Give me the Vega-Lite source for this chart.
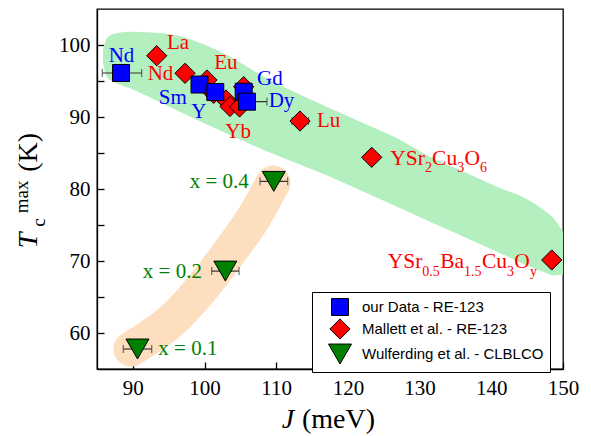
{
  "$schema": "https://vega.github.io/schema/vega-lite/v6.json",
  "width": 466,
  "height": 360,
  "autosize": {"type": "none"},
  "padding": {"left": 97, "top": 9, "right": 28, "bottom": 67},
  "background": "white",
  "config": {
    "view": {"stroke": "black", "strokeWidth": 1.3},
    "axis": {
      "grid": false, "domainColor": "black", "domainWidth": 1.3,
      "tickColor": "black", "tickWidth": 1.3,
      "labelFont": "Liberation Serif", "labelFontSize": 21, "labelColor": "black",
      "labelOverlap": false, "labelFlush": false, "title": null
    },
    "legend": {
      "strokeColor": "black", "strokeWidth": 1, "fillColor": "white",
      "padding": 6, "labelFont": "Liberation Sans", "labelFontSize": 15, "labelColor": "black",
      "labelLimit": 0,
      "symbolStrokeColor": "black", "symbolStrokeWidth": 1, "rowPadding": -3,
      "symbolOffset": 10, "labelOffset": 10
    }
  },
  "datasets": {
    "bandG": [
      {"J": 85.837, "T": 99.306, "T2": 97.5},
      {"J": 86.395, "T": 100.972, "T2": 95.556},
      {"J": 87.511, "T": 101.597, "T2": 94.792},
      {"J": 89.603, "T": 101.847, "T2": 93.986},
      {"J": 94.304, "T": 101.625, "T2": 91.806},
      {"J": 98.949, "T": 100.458, "T2": 89.583},
      {"J": 103.552, "T": 98.375, "T2": 87.5},
      {"J": 108.253, "T": 95.597, "T2": 85.417},
      {"J": 112.898, "T": 93.292, "T2": 83.556},
      {"J": 117.502, "T": 91.208, "T2": 81.708},
      {"J": 122.203, "T": 89.125, "T2": 79.625},
      {"J": 126.848, "T": 87.042, "T2": 77.542},
      {"J": 131.451, "T": 84.486, "T2": 75.458},
      {"J": 136.152, "T": 82.403, "T2": 73.375},
      {"J": 140.797, "T": 80.319, "T2": 71.292},
      {"J": 145.4, "T": 78.333, "T2": 69.208},
      {"J": 147.311, "T": 77.083, "T2": 68.472},
      {"J": 148.888, "T": 75.694, "T2": 67.986},
      {"J": 150.0, "T": 74.028, "T2": 68.194}
    ],
    "bandO": [
      {"J": 89.743, "T": 57.778},
      {"J": 95.95, "T": 62.222},
      {"J": 100.204, "T": 66.944},
      {"J": 103.385, "T": 71.111},
      {"J": 106.9, "T": 76.111},
      {"J": 109.55, "T": 80.833}
    ],
    "err": [
      {"Jlo": 85.74, "Jhi": 91.23, "T": 96.11},
      {"Jlo": 103.37, "Jhi": 108.71, "T": 92.13},
      {"Jlo": 92.6, "Jhi": 94.1, "T": 98.51},
      {"Jlo": 96.4, "Jhi": 98.14, "T": 96.07},
      {"Jlo": 112.2, "Jhi": 114.5, "T": 89.44},
      {"Jlo": 88.67, "Jhi": 92.63, "T": 57.78},
      {"Jlo": 101.0, "Jhi": 104.81, "T": 68.6},
      {"Jlo": 107.74, "Jhi": 111.6, "T": 81.06}
    ],
    "pts": [
      {"series": "Mallett et al. - RE-123", "J": 93.33, "T": 98.51},
      {"series": "Mallett et al. - RE-123", "J": 97.28, "T": 96.07},
      {"series": "Mallett et al. - RE-123", "J": 100.34, "T": 95.14},
      {"series": "Mallett et al. - RE-123", "J": 101.28, "T": 93.29},
      {"series": "Mallett et al. - RE-123", "J": 103.0, "T": 92.36},
      {"series": "Mallett et al. - RE-123", "J": 103.55, "T": 91.46},
      {"series": "Mallett et al. - RE-123", "J": 104.88, "T": 91.39},
      {"series": "Mallett et al. - RE-123", "J": 105.46, "T": 94.21},
      {"series": "Mallett et al. - RE-123", "J": 113.32, "T": 89.44},
      {"series": "Mallett et al. - RE-123", "J": 123.32, "T": 84.4},
      {"series": "Mallett et al. - RE-123", "J": 148.43, "T": 70.14},
      {"series": "our Data - RE-123", "J": 88.35, "T": 96.11},
      {"series": "our Data - RE-123", "J": 99.3, "T": 94.51},
      {"series": "our Data - RE-123", "J": 101.5, "T": 93.47},
      {"series": "our Data - RE-123", "J": 105.46, "T": 93.51},
      {"series": "our Data - RE-123", "J": 105.92, "T": 92.13},
      {"series": "Wulferding et al. - CLBLCO", "J": 90.65, "T": 57.78},
      {"series": "Wulferding et al. - CLBLCO", "J": 102.9, "T": 68.6},
      {"series": "Wulferding et al. - CLBLCO", "J": 109.66, "T": 81.06}
    ],
    "labels": [
      {"group": "Mallett", "t": "La", "J": 94.76, "T": 99.4},
      {"group": "Mallett", "t": "Nd", "J": 92.07, "T": 95.1},
      {"group": "Mallett", "t": "Eu", "J": 101.36, "T": 96.62},
      {"group": "Mallett", "t": "Yb", "J": 102.9, "T": 87.04},
      {"group": "Mallett", "t": "Lu", "J": 115.69, "T": 88.57},
      {"group": "ours", "t": "Nd", "J": 86.63, "T": 97.6},
      {"group": "ours", "t": "Sm", "J": 93.61, "T": 91.85},
      {"group": "ours", "t": "Y", "J": 98.15, "T": 89.82},
      {"group": "ours", "t": "Gd", "J": 107.32, "T": 94.44},
      {"group": "ours", "t": "Dy", "J": 108.95, "T": 91.35},
      {"group": "Wulferding", "t": "x = 0.4", "J": 97.93, "T": 80.1},
      {"group": "Wulferding", "t": "x = 0.2", "J": 91.39, "T": 67.68},
      {"group": "Wulferding", "t": "x = 0.1", "J": 93.55, "T": 56.94}
    ],
    "formula": [
      {"part": "main", "t": "YSr", "J": 125.912, "T": 83.33},
      {"part": "sub", "t": "2", "J": 130.739, "T": 82.4},
      {"part": "main", "t": "Cu", "J": 131.743, "T": 83.33},
      {"part": "sub", "t": "3", "J": 135.244, "T": 82.4},
      {"part": "main", "t": "O", "J": 136.248, "T": 83.33},
      {"part": "sub", "t": "6", "J": 138.424, "T": 82.4},
      {"part": "main", "t": "YSr", "J": 125.55, "T": 68.99},
      {"part": "sub", "t": "0.5", "J": 130.376, "T": 67.92},
      {"part": "main", "t": "Ba", "J": 132.873, "T": 68.99},
      {"part": "sub", "t": "1.5", "J": 136.207, "T": 67.92},
      {"part": "main", "t": "Cu", "J": 138.704, "T": 68.99},
      {"part": "sub", "t": "3", "J": 142.205, "T": 67.92},
      {"part": "main", "t": "O", "J": 143.209, "T": 68.99},
      {"part": "sub", "t": "y", "J": 145.385, "T": 67.92}
    ],
    "ytitleItalic": [{"t": "T", "J": 76.589, "T": 71.76}],
    "ytitleSmall": [
      {"t": "c", "J": 77.747, "T": 74.76},
      {"t": "max", "J": 75.445, "T": 76.625}
    ],
    "ytitleUnit": [{"t": "(K)", "J": 76.589, "T": 82.4}],
    "xtitleItalic": [{"t": "J", "J": 110.764, "T": 46.76}],
    "xtitleUnit": [{"t": "(meV)", "J": 113.596, "T": 46.76}]
  },
  "layer": [
    {
      "data": {"name": "bandG"},
      "mark": {"type": "area", "color": "#b4efbf", "interpolate": "monotone", "clip": true},
      "encoding": {
        "x": {"field": "J", "type": "quantitative", "scale": {"domain": [85, 150], "nice": false, "zero": false},
          "axis": {"values": [90, 95, 100, 105, 110, 115, 120, 125, 130, 135, 140, 145, 150],
            "labelExpr": "datum.value % 10 === 0 ? datum.label : ''",
            "tickSize": -7,
            "labelPadding": 15}},
        "y": {"field": "T", "type": "quantitative", "scale": {"domain": [55, 105], "nice": false, "zero": false},
          "axis": {"values": [60, 65, 70, 75, 80, 85, 90, 95, 100],
            "labelExpr": "datum.value % 10 === 0 ? datum.label : ''",
            "tickSize": -7,
            "labelPadding": 14}},
        "y2": {"field": "T2"}
      }
    },
    {
      "data": {"name": "bandO"},
      "mark": {"type": "line", "color": "#fddfc0", "strokeWidth": 35, "strokeCap": "round", "strokeJoin": "round", "interpolate": "monotone"},
      "encoding": {
        "x": {"field": "J", "type": "quantitative", "scale": {"domain": [85, 150], "nice": false, "zero": false}},
        "y": {"field": "T", "type": "quantitative", "scale": {"domain": [55, 105], "nice": false, "zero": false}}
      }
    },
    {
      "data": {"name": "err"},
      "mark": {"type": "rule", "color": "#333333", "strokeWidth": 1.2},
      "encoding": {
        "x": {"field": "Jlo", "type": "quantitative", "scale": {"domain": [85, 150], "nice": false, "zero": false}},
        "x2": {"field": "Jhi"},
        "y": {"field": "T", "type": "quantitative", "scale": {"domain": [55, 105], "nice": false, "zero": false}}
      }
    },
    {
      "data": {"name": "err"},
      "mark": {"type": "tick", "orient": "vertical", "color": "#333333", "size": 8, "thickness": 1.2},
      "encoding": {
        "x": {"field": "Jlo", "type": "quantitative", "scale": {"domain": [85, 150], "nice": false, "zero": false}},
        "y": {"field": "T", "type": "quantitative", "scale": {"domain": [55, 105], "nice": false, "zero": false}}
      }
    },
    {
      "data": {"name": "err"},
      "mark": {"type": "tick", "orient": "vertical", "color": "#333333", "size": 8, "thickness": 1.2},
      "encoding": {
        "x": {"field": "Jhi", "type": "quantitative", "scale": {"domain": [85, 150], "nice": false, "zero": false}},
        "y": {"field": "T", "type": "quantitative", "scale": {"domain": [55, 105], "nice": false, "zero": false}}
      }
    },
    {
      "data": {"name": "pts"},
      "mark": {"type": "point", "filled": true, "stroke": "black", "strokeWidth": 1, "opacity": 1},
      "encoding": {
        "x": {"field": "J", "type": "quantitative", "scale": {"domain": [85, 150], "nice": false, "zero": false}},
        "y": {"field": "T", "type": "quantitative", "scale": {"domain": [55, 105], "nice": false, "zero": false}},
        "color": {"field": "series", "type": "nominal",
          "scale": {"domain": ["our Data - RE-123", "Mallett et al. - RE-123", "Wulferding et al. - CLBLCO"], "range": ["#0000ff", "#ff0000", "#008000"]},
          "legend": {"orient": "none", "legendX": 215, "legendY": 283, "title": null}},
        "shape": {"field": "series", "type": "nominal",
          "scale": {"domain": ["our Data - RE-123", "Mallett et al. - RE-123", "Wulferding et al. - CLBLCO"], "range": ["square", "diamond", "triangle-down"]},
          "legend": {"orient": "none", "legendX": 215, "legendY": 283, "title": null}},
        "size": {"field": "series", "type": "nominal",
          "scale": {"domain": ["our Data - RE-123", "Mallett et al. - RE-123", "Wulferding et al. - CLBLCO"], "range": [289, 529, 470]},
          "legend": {"orient": "none", "legendX": 215, "legendY": 283, "title": null}}
      }
    },
    {
      "data": {"name": "labels"},
      "transform": [{"filter": "datum.group === 'Mallett'"}],
      "mark": {"type": "text", "font": "Liberation Serif", "fontSize": 21, "color": "#ff0000", "align": "left", "baseline": "alphabetic"},
      "encoding": {
        "x": {"field": "J", "type": "quantitative", "scale": {"domain": [85, 150], "nice": false, "zero": false}},
        "y": {"field": "T", "type": "quantitative", "scale": {"domain": [55, 105], "nice": false, "zero": false}},
        "text": {"field": "t"}
      }
    },
    {
      "data": {"name": "labels"},
      "transform": [{"filter": "datum.group === 'ours'"}],
      "mark": {"type": "text", "font": "Liberation Serif", "fontSize": 21, "color": "#0000ff", "align": "left", "baseline": "alphabetic"},
      "encoding": {
        "x": {"field": "J", "type": "quantitative", "scale": {"domain": [85, 150], "nice": false, "zero": false}},
        "y": {"field": "T", "type": "quantitative", "scale": {"domain": [55, 105], "nice": false, "zero": false}},
        "text": {"field": "t"}
      }
    },
    {
      "data": {"name": "labels"},
      "transform": [{"filter": "datum.group === 'Wulferding'"}],
      "mark": {"type": "text", "font": "Liberation Serif", "fontSize": 21, "color": "#008000", "align": "left", "baseline": "alphabetic"},
      "encoding": {
        "x": {"field": "J", "type": "quantitative", "scale": {"domain": [85, 150], "nice": false, "zero": false}},
        "y": {"field": "T", "type": "quantitative", "scale": {"domain": [55, 105], "nice": false, "zero": false}},
        "text": {"field": "t"}
      }
    },
    {
      "data": {"name": "formula"},
      "transform": [{"filter": "datum.part === 'main'"}],
      "mark": {"type": "text", "font": "Liberation Serif", "fontSize": 21.5, "color": "#ff0000", "align": "left", "baseline": "alphabetic"},
      "encoding": {
        "x": {"field": "J", "type": "quantitative", "scale": {"domain": [85, 150], "nice": false, "zero": false}},
        "y": {"field": "T", "type": "quantitative", "scale": {"domain": [55, 105], "nice": false, "zero": false}},
        "text": {"field": "t"}
      }
    },
    {
      "data": {"name": "formula"},
      "transform": [{"filter": "datum.part === 'sub'"}],
      "mark": {"type": "text", "font": "Liberation Serif", "fontSize": 14, "color": "#ff0000", "align": "left", "baseline": "alphabetic"},
      "encoding": {
        "x": {"field": "J", "type": "quantitative", "scale": {"domain": [85, 150], "nice": false, "zero": false}},
        "y": {"field": "T", "type": "quantitative", "scale": {"domain": [55, 105], "nice": false, "zero": false}},
        "text": {"field": "t"}
      }
    },
    {
      "data": {"name": "ytitleItalic"},
      "mark": {"type": "text", "font": "Liberation Serif", "fontSize": 28, "fontStyle": "italic", "color": "black", "align": "left", "baseline": "alphabetic", "angle": 270},
      "encoding": {
        "x": {"field": "J", "type": "quantitative", "scale": {"domain": [85, 150], "nice": false, "zero": false}},
        "y": {"field": "T", "type": "quantitative", "scale": {"domain": [55, 105], "nice": false, "zero": false}},
        "text": {"field": "t"}
      }
    },
    {
      "data": {"name": "ytitleSmall"},
      "mark": {"type": "text", "font": "Liberation Serif", "fontSize": 19, "color": "black", "align": "left", "baseline": "alphabetic", "angle": 270},
      "encoding": {
        "x": {"field": "J", "type": "quantitative", "scale": {"domain": [85, 150], "nice": false, "zero": false}},
        "y": {"field": "T", "type": "quantitative", "scale": {"domain": [55, 105], "nice": false, "zero": false}},
        "text": {"field": "t"}
      }
    },
    {
      "data": {"name": "ytitleUnit"},
      "mark": {"type": "text", "font": "Liberation Serif", "fontSize": 28, "color": "black", "align": "left", "baseline": "alphabetic", "angle": 270},
      "encoding": {
        "x": {"field": "J", "type": "quantitative", "scale": {"domain": [85, 150], "nice": false, "zero": false}},
        "y": {"field": "T", "type": "quantitative", "scale": {"domain": [55, 105], "nice": false, "zero": false}},
        "text": {"field": "t"}
      }
    },
    {
      "data": {"name": "xtitleItalic"},
      "mark": {"type": "text", "font": "Liberation Serif", "fontSize": 28, "fontStyle": "italic", "color": "black", "align": "left", "baseline": "alphabetic"},
      "encoding": {
        "x": {"field": "J", "type": "quantitative", "scale": {"domain": [85, 150], "nice": false, "zero": false}},
        "y": {"field": "T", "type": "quantitative", "scale": {"domain": [55, 105], "nice": false, "zero": false}},
        "text": {"field": "t"}
      }
    },
    {
      "data": {"name": "xtitleUnit"},
      "mark": {"type": "text", "font": "Liberation Serif", "fontSize": 28, "color": "black", "align": "left", "baseline": "alphabetic"},
      "encoding": {
        "x": {"field": "J", "type": "quantitative", "scale": {"domain": [85, 150], "nice": false, "zero": false}},
        "y": {"field": "T", "type": "quantitative", "scale": {"domain": [55, 105], "nice": false, "zero": false}},
        "text": {"field": "t"}
      }
    }
  ]
}
